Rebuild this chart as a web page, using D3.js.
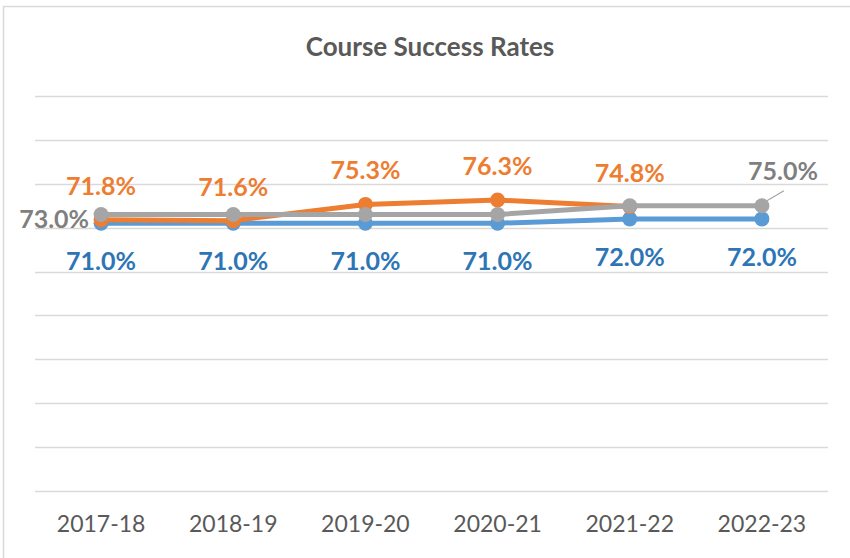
<!DOCTYPE html>
<html>
<head>
<meta charset="utf-8">
<script src="https://cdn.jsdelivr.net/npm/d3@7"></script>
<style>
  body { margin: 0; background: #fff; }
  text { font-family: Lato, "Open Sans", sans-serif; }
</style>
</head>
<body>
<div id="chart"></div>
<script>
var years = ["2017-18", "2018-19", "2019-20", "2020-21", "2021-22", "2022-23"];
var blueValues = [71.0, 71.0, 71.0, 71.0, 72.0, 72.0];
var orangeValues = [71.8, 71.6, 75.3, 76.3, 74.8, null];
var grayValues = [73.0, 73.0, 73.0, 73.0, 75.0, 75.0];
var yTicks = [10, 20, 30, 40, 50, 60, 70, 80, 90, 100];

var svgWidth = 850;
var svgHeight = 558;
var margin = { top: 96, right: 22, bottom: 67, left: 35 };
var width = svgWidth - margin.left - margin.right;
var height = svgHeight - margin.top - margin.bottom;

var svg = d3.select("#chart")
  .append("svg")
  .attr("width", svgWidth)
  .attr("height", svgHeight);

// outer chart frame (runs off right/bottom)
svg.append("rect")
  .attr("x", 3.5)
  .attr("y", 6.5)
  .attr("width", 900)
  .attr("height", 600)
  .attr("fill", "none")
  .attr("stroke", "#d9d9d9")
  .attr("stroke-width", 1.5);

svg.append("text")
  .attr("x", 430)
  .attr("y", 56)
  .attr("text-anchor", "middle")
  .attr("font-size", "26px")
  .attr("font-weight", "bold")
  .attr("fill", "#595959")
  .text("Course Success Rates");

var chartGroup = svg.append("g")
  .attr("transform", `translate(${margin.left}, ${margin.top})`);

var xScale = d3.scaleBand()
  .domain(years)
  .range([0, width]);

var yScale = d3.scaleLinear()
  .domain([10, 100])
  .range([height, 0]);

// gridlines
chartGroup.selectAll(".grid")
  .data(yTicks)
  .enter()
  .append("line")
  .attr("x1", 0)
  .attr("x2", width)
  .attr("y1", d => Math.round(yScale(d)) + 0.5)
  .attr("y2", d => Math.round(yScale(d)) + 0.5)
  .attr("stroke", "#d9d9d9")
  .attr("stroke-width", 1.5);

// x axis labels
var xAxis = d3.axisBottom(xScale).tickSize(0).tickPadding(25);
var xAxisGroup = chartGroup.append("g")
  .attr("transform", `translate(0, ${height})`)
  .call(xAxis);
xAxisGroup.select(".domain").remove();
xAxisGroup.selectAll("text")
  .attr("font-size", "23px")
  .attr("fill", "#595959")
  .style("font-family", "Lato, 'Open Sans', sans-serif");

var cx = d => xScale.bandwidth() / 2 + xScale(d);

var series = [
  { name: "blue", values: blueValues, line: "#5b9bd5", label: "#2e75b6" },
  { name: "orange", values: orangeValues, line: "#ed7d31", label: "#ed7d31" },
  { name: "gray", values: grayValues, line: "#a5a5a5", label: "#7f7f7f" }
];

var lineGen = d3.line()
  .defined(d => d.v !== null)
  .x(d => cx(d.year))
  .y(d => yScale(d.v));

series.forEach(function(s) {
  var pts = years.map((y, i) => ({ year: y, v: s.values[i] }));
  chartGroup.append("path")
    .datum(pts)
    .attr("d", lineGen)
    .attr("fill", "none")
    .attr("stroke", s.line)
    .attr("stroke-width", 5)
    .attr("stroke-linejoin", "round");
  chartGroup.selectAll(".dot-" + s.name)
    .data(pts.filter(d => d.v !== null))
    .enter()
    .append("circle")
    .attr("cx", d => cx(d.year))
    .attr("cy", d => yScale(d.v))
    .attr("r", 7.5)
    .attr("fill", s.line);
});

// data labels
function addLabels(vals, color, pick, place) {
  chartGroup.selectAll(null)
    .data(years.map((y, i) => ({ year: y, v: vals[i], i: i })).filter(pick))
    .enter()
    .append("text")
    .attr("x", d => cx(d.year) + place(d).dx)
    .attr("y", d => yScale(d.v) + place(d).dy)
    .attr("text-anchor", d => place(d).anchor)
    .attr("font-size", "25px")
    .attr("font-weight", "bold")
    .attr("fill", color)
    .text(d => d.v.toFixed(1) + "%");
}

addLabels(blueValues, "#2e75b6", d => true,
  d => ({ dx: 0, dy: 47, anchor: "middle" }));
addLabels(orangeValues, "#ed7d31", d => d.v !== null,
  d => ({ dx: 0, dy: -25, anchor: "middle" }));
addLabels(grayValues, "#7f7f7f", d => d.i === 0 || d.i === years.length - 1,
  d => d.i === 0 ? { dx: -12, dy: 13, anchor: "end" } : { dx: 21, dy: -26, anchor: "middle" });

// leader line for last gray label
var lastYear = years[years.length - 1];
var lastGray = grayValues[grayValues.length - 1];
chartGroup.append("line")
  .attr("x1", cx(lastYear) + 5)
  .attr("y1", yScale(lastGray) - 5)
  .attr("x2", cx(lastYear) + 22)
  .attr("y2", yScale(lastGray) - 15)
  .attr("stroke", "#a5a5a5")
  .attr("stroke-width", 1.2);
</script>
</body>
</html>
